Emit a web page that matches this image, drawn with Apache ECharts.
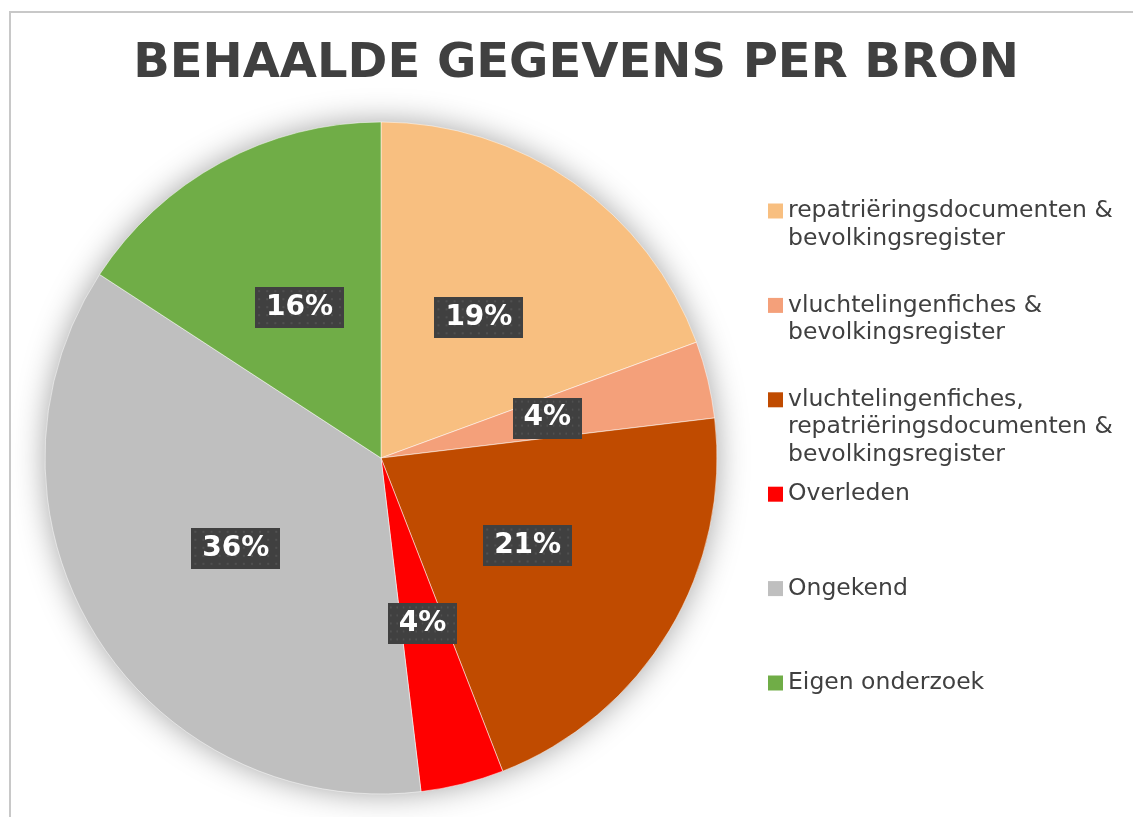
<!DOCTYPE html>
<html>
<head>
<meta charset="utf-8">
<title>Behaalde gegevens per bron</title>
<script src="https://cdn.jsdelivr.net/npm/echarts@6/dist/echarts.min.js"></script>
<style>
  html, body { margin: 0; padding: 0; background: #fff; }
  #chart { width: 1133px; height: 817px; }
</style>
</head>
<body>
<div id="chart"></div>
<script>
// gegevens
var bronnen = [
    'repatriëringsdocumenten &\nbevolkingsregister',
    'vluchtelingenfiches &\nbevolkingsregister',
    'vluchtelingenfiches,\nrepatriëringsdocumenten &\nbevolkingsregister',
    'Overleden',
    'Ongekend',
    'Eigen onderzoek'
];
var aandeel = [19.4, 3.7, 21.0, 4.0, 36.1, 15.8];
var kleuren = ['#F8BF80', '#F4A07A', '#C04B00', '#FF0000', '#BFBFBF', '#70AD47'];

(function() {
    var myChart = echarts.init(document.getElementById('chart'));

    var cx = 381, cy = 458, straal = 336;
    var regel = 27.5;

    // donkere label-achtergrond met stippen
    function stippen(w, h) {
        var c = document.createElement('canvas');
        c.width = w; c.height = h;
        var ctx = c.getContext('2d');
        ctx.fillStyle = '#404040';
        ctx.fillRect(0, 0, w, h);
        ctx.fillStyle = '#505050';
        for (var y = 3; y < h; y += 8) {
            for (var x = 3; x < w; x += 8) {
                ctx.fillRect(x, y, 2, 2);
            }
        }
        return c;
    }
    var patroon = stippen(88, 41);

    var data = bronnen.map(function(naam, i) {
        return { name: naam, value: aandeel[i], itemStyle: { color: kleuren[i] } };
    });

    // één legende per item; het blokje staat als rich-text bij de eerste regel
    var markY = [211, 305.4, 399.8, 494.2, 588.6, 683];
    var legends = bronnen.map(function(naam, i) {
        return {
            orient: 'vertical',
            left: 762,
            top: markY[i] - regel / 2,
            padding: 0,
            icon: 'rect',
            itemWidth: 0,
            itemHeight: 0,
            selectedMode: false,
            formatter: function(name) {
                return name.split('\n').map(function(r, k) {
                    return (k === 0 ? '{m|}{g|}' : '{s|}') + r;
                }).join('\n');
            },
            textStyle: {
                fontFamily: 'DejaVu Sans',
                fontSize: 23.5,
                lineHeight: regel,
                color: '#404040',
                rich: {
                    m: { width: 15, height: 15, backgroundColor: kleuren[i] },
                    g: { width: 5 },
                    s: { width: 20 }
                }
            },
            data: [naam]
        };
    });

    var option = {
        backgroundColor: '#fff',
        title: {
            text: 'BEHAALDE GEGEVENS PER BRON',
            left: 571,
            top: 36,
            textAlign: 'center',
            textStyle: {
                fontFamily: 'DejaVu Sans',
                fontWeight: 'bold',
                fontSize: 48,
                color: '#404040'
            }
        },
        legend: legends,
        graphic: [{
            type: 'rect',
            shape: { x: 10, y: 12, width: 1300, height: 1000 },
            style: { fill: 'none', stroke: '#C8C8C8', lineWidth: 2 },
            silent: true,
            z: -10
        }, {
            // schaduw rond de taart
            type: 'circle',
            shape: { cx: cx, cy: cy, r: straal - 1 },
            style: {
                fill: '#fff',
                shadowBlur: 32,
                shadowColor: 'rgba(0,0,0,0.38)'
            },
            silent: true,
            z: -5
        }],
        series: [{
            type: 'pie',
            center: [cx, cy],
            radius: [0, straal],
            startAngle: 90,
            clockwise: true,
            silent: true,
            animation: false,
            itemStyle: {
                borderColor: '#fff',
                borderWidth: 0.5
            },
            label: {
                show: true,
                position: 'inside',
                formatter: function(p) {
                    return Math.round(p.value) + '%';
                },
                fontFamily: 'DejaVu Sans',
                fontWeight: 'bold',
                fontSize: 28,
                lineHeight: 28,
                color: '#fff',
                backgroundColor: { image: patroon },
                padding: [7, 11, 6, 11],
                shadowBlur: 9,
                shadowOffsetX: 4,
                shadowOffsetY: 5,
                shadowColor: 'rgba(0,0,0,0.65)'
            },
            labelLine: { show: false },
            data: data
        }]
    };

    myChart.setOption(option);

    window.addEventListener('resize', function() {
        myChart.resize();
    });
})();
</script>
</body>
</html>
